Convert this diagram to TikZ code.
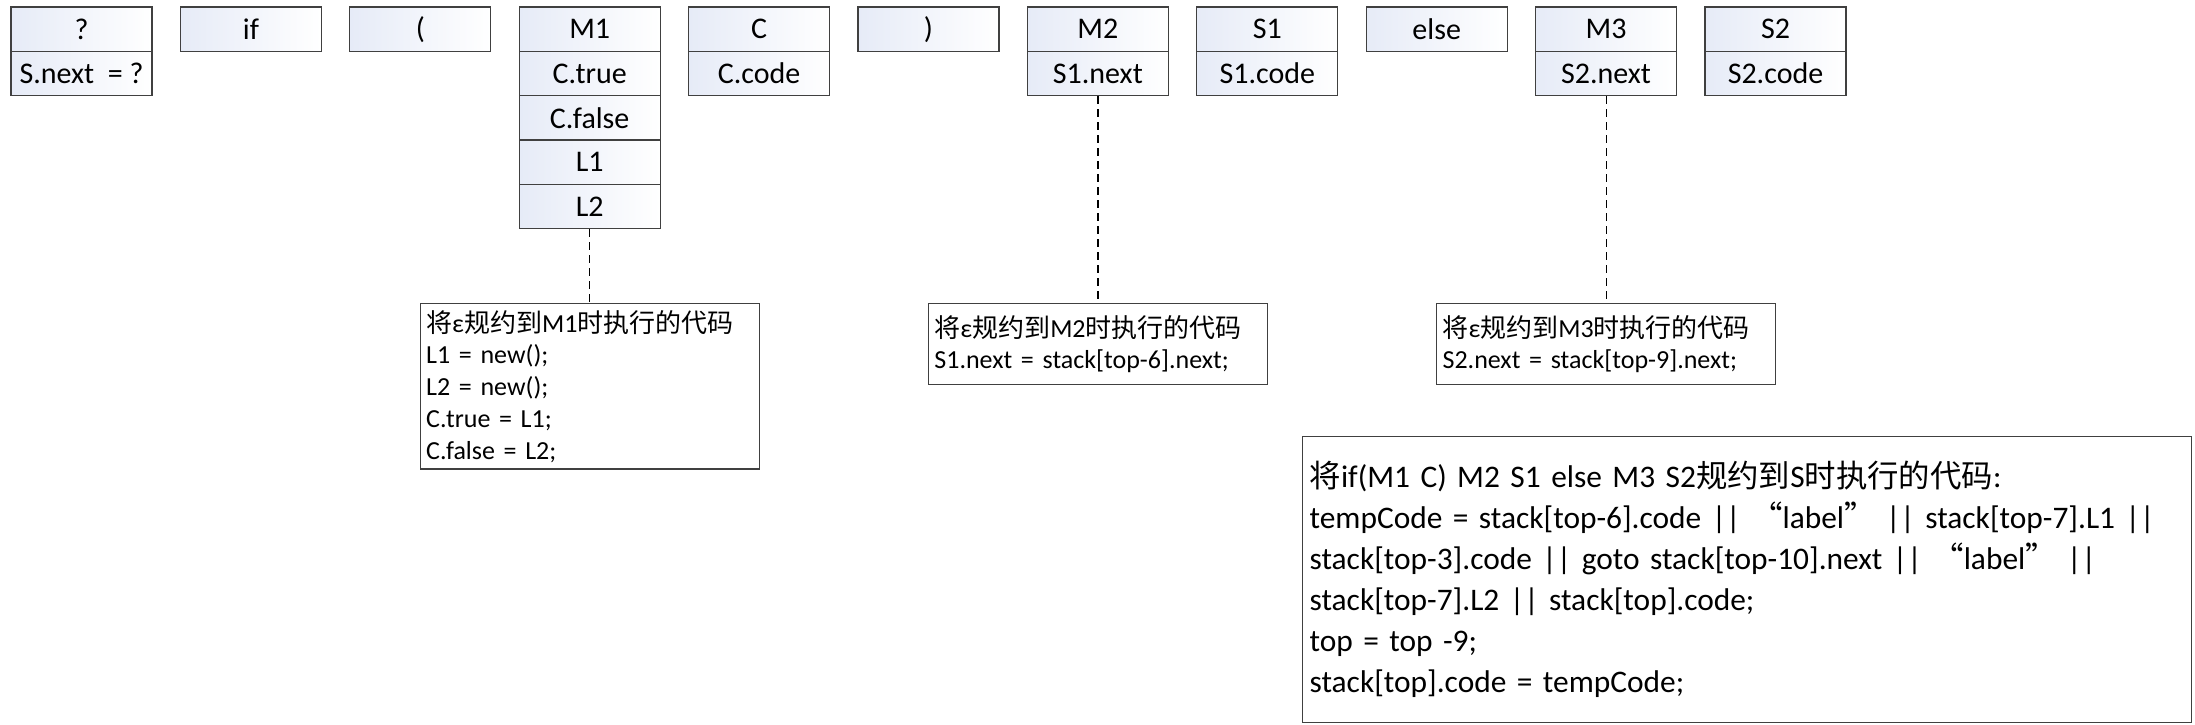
\documentclass[tikz,border=0pt]{standalone}
\usepackage{fontspec}
\setmainfont{Carlito}
\newfontfamily\cjkfont{Noto Sans CJK SC}
\newcommand{\zh}[1]{{\cjkfont #1}}
\usetikzlibrary{positioning}
\definecolor{cellblue}{RGB}{230,235,247}
\definecolor{boxline}{RGB}{64,64,64}

\tikzset{
  cell/.style={rectangle, draw=boxline, line width=0.6pt, left color=cellblue, right color=white,
    minimum width=70.5pt, minimum height=22.15pt, inner sep=0pt, font=\fontsize{15}{18}\selectfont},
  action/.style={rectangle, draw=boxline, line width=0.6pt, fill=white, anchor=north, align=left,
    text width=163.5pt, inner xsep=3pt, font=\fontsize{13}{15.85}\selectfont},
  link/.style={draw=black, line width=0.6pt, dash pattern=on 4pt off 2.5pt}
}

\begin{document}
\begin{tikzpicture}[x=0.5pt, y=-0.5pt]
   \useasboundingbox (0,0) rectangle (2195,724);
   % the symbols on the stack
   \begin{scope}[every node/.style={cell}]
    \node (q)      at (81.5,29.15)   {?};
    \node (qnext)  at (81.5,73.45)   {S.next~~= ?};
    \node (kif)    at (250.9,29.15)  {if};
    \node (lp)     at (420.3,29.15)  {(};
    \node (m1)     at (589.7,29.15)  {M1};
    \node (ctrue)  at (589.7,73.45)  {C.true};
    \node (cfalse) at (589.7,117.75) {C.false};
    \node (l1)     at (589.7,162.05) {L1};
    \node (l2)     at (589.7,206.35) {L2};
    \node (c)      at (759.1,29.15)  {C};
    \node (ccode)  at (759.1,73.45)  {C.code};
    \node (rp)     at (928.5,29.15)  {)};
    \node (m2)     at (1097.9,29.15) {M2};
    \node (s1next) at (1097.9,73.45) {S1.next};
    \node (s1)     at (1267.3,29.15) {S1};
    \node (s1code) at (1267.3,73.45) {S1.code};
    \node (kelse)  at (1436.7,29.15) {else};
    \node (m3)     at (1606.1,29.15) {M3};
    \node (s2next) at (1606.1,73.45) {S2.next};
    \node (s2)     at (1775.5,29.15) {S2};
    \node (s2code) at (1775.5,73.45) {S2.code};
   \end{scope}
   % semantic actions
   \node[action, minimum height=79pt] (act1) at (589.7,303)
     {\zh{将}ε\zh{规约到}M1\zh{时执行的代码}\\ L1 = new();\\ L2 = new();\\ C.true = L1;\\ C.false = L2;};
   \node[action, minimum height=40.5pt] (act2) at (1097.9,303)
     {\zh{将}ε\zh{规约到}M2\zh{时执行的代码}\\ S1.next = stack[top-6].next;};
   \node[action, minimum height=40.5pt] (act3) at (1606.1,303)
     {\zh{将}ε\zh{规约到}M3\zh{时执行的代码}\\ S2.next = stack[top-9].next;};
   \node[action, anchor=north west, minimum width=444.5pt, minimum height=143pt, text width=437.5pt,
     font=\fontsize{15.7}{20.5}\selectfont] (actS) at (1302,436)
     {\zh{将}if(M1 C) M2 S1 else M3 S2\zh{规约到}S\zh{时执行的代码}:\\
      tempCode = stack[top-6].code || \zh{“}label\zh{”} || stack[top-7].L1 ||\\
      stack[top-3].code || goto stack[top-10].next || \zh{“}label\zh{”} ||\\
      stack[top-7].L2 || stack[top].code;\\
      top = top -9;\\
      stack[top].code = tempCode;};
   \draw[link] (l2.south) -- (act1.north);
   \draw[link] (s1next.south) -- (act2.north);
   \draw[link] (s2next.south) -- (act3.north);
\end{tikzpicture}
\end{document}
